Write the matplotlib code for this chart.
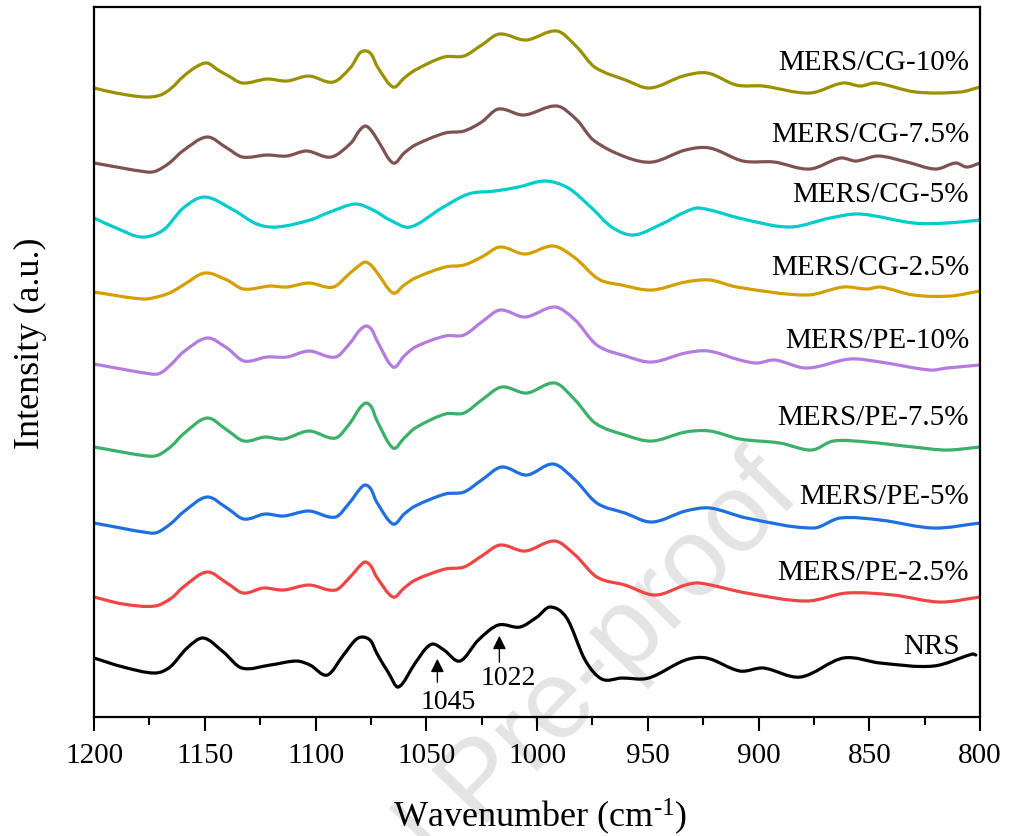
"""
    FTIR spectra 1200-800 cm-1, stacked curves (NRS, MERS/PE, MERS/CG)
"""
import matplotlib
matplotlib.use('Agg')
import matplotlib.pyplot as plt
from matplotlib.path import Path
from matplotlib.patches import PathPatch
from matplotlib.ticker import MultipleLocator

plt.rcParams['font.family'] = ['Liberation Serif', 'DejaVu Serif']
plt.rcParams['mathtext.fontset'] = 'custom'
plt.rcParams['mathtext.rm'] = 'Liberation Serif'
plt.rcParams['mathtext.default'] = 'regular'

# 读图得到的数据（强度为叠加偏移后的值，任意单位）
nrs_wn = [1200, 1186.8, 1172.5, 1165.7, 1158, 1150.6, 1141.6, 1133.3, 1120.5, 1108.5,
          1102.5, 1094.7, 1087.4, 1082, 1078.7, 1075, 1072.4, 1067, 1062.6, 1055,
          1050, 1046.8, 1042, 1034.8, 1026.5, 1017.5, 1007.7, 1000, 994.1, 986.6,
          978.3, 970.8, 961.8, 949.7, 933, 923.4, 908.4, 897.8, 881.1, 861.7,
          845, 821, 803.4, 801.9]
nrs_int = [59, 50, 44, 50, 69, 79, 65, 49, 52, 56,
           52, 42, 62, 77, 80, 76, 64, 44, 30, 54,
           69, 73, 67, 56, 77, 92, 90, 100, 110, 99,
           57, 38, 39, 39, 57, 59, 46, 49, 40, 59,
           54, 51, 63, 62]

pe25_wn = [1200, 1186.8, 1172.5, 1165, 1159.7, 1149, 1140, 1132.6, 1123.6, 1114.5, 1103,
           1091, 1084.4, 1080, 1077.6, 1075, 1072.4, 1065, 1060, 1055, 1041.5,
           1033, 1025, 1016.7, 1005.4, 991.9, 982.8, 973, 960.3, 946.7, 933,
           926.7, 905.4, 878.3, 860.2, 839.2, 818.2, 800]
pe25_int = [120, 113, 111, 119, 130, 145, 134, 124, 129, 127, 132,
            127, 140, 151, 155, 151, 140, 120, 129, 137, 148,
            150, 161, 172, 166, 176, 162, 140, 132, 122, 132,
            134, 124, 116, 124, 122, 115, 120]

pe5_wn = [1200, 1174.7, 1171, 1165, 1159.7, 1149, 1140, 1132.3, 1122.8, 1114.5, 1103,
          1091, 1084.4, 1080, 1077.6, 1075, 1072.4, 1065, 1060, 1055, 1041.5,
          1033, 1025, 1016, 1004.7, 992.6, 982.8, 973, 960.3, 948.2, 933,
          921.9, 905.4, 875.3, 863.2, 845, 821, 800]
pe5_int = [194, 184, 185, 194, 205, 220, 209, 198, 203, 201, 206,
           200, 215, 228, 232, 228, 215, 193, 203, 211, 223,
           225, 237, 250, 242, 253, 237, 214, 204, 195, 206,
           209, 199, 189, 199, 197, 189, 194]

pe75_wn = [1200, 1176, 1171, 1165, 1159.7, 1149, 1140, 1132.3, 1122.8, 1114.5, 1103,
           1091, 1084.4, 1080, 1077, 1074.5, 1072.4, 1065, 1060, 1055, 1041.5,
           1033, 1025, 1016, 1004.7, 991.9, 982.8, 973.8, 960.3, 948.2, 933,
           921.9, 908.4, 890.3, 876, 866.3, 851, 830, 815, 800]
pe75_int = [270, 261, 262, 271, 283, 299, 287, 276, 280, 278, 286,
            279, 294, 309, 314, 309, 297, 269, 279, 289, 303,
            304, 317, 330, 324, 334, 317, 294, 282, 276, 285,
            286, 278, 274, 267, 276, 275, 270, 267, 270]

pe10_wn = [1200, 1174, 1170, 1165, 1159.7, 1149, 1140, 1132.3, 1122, 1113, 1103,
           1091, 1084.4, 1080, 1077, 1074.5, 1072.4, 1065, 1060, 1055, 1041.5,
           1033, 1025, 1016.7, 1005.4, 991.9, 982.8, 973, 960, 948.2, 933,
           922.6, 908.4, 900.8, 892.6, 878.3, 858.7, 845, 822.6, 815, 800]
pe10_int = [353, 343, 344, 353, 365, 379, 369, 356, 360, 360, 366,
            360, 374, 387, 391, 387, 377, 350, 361, 370, 381,
            382, 395, 407, 400, 410, 397, 372, 361, 355, 364,
            366, 357, 354, 357, 349, 358, 355, 347, 349, 352]

cg25_wn = [1200, 1177.7, 1170, 1165, 1159.7, 1150, 1140, 1132.6, 1120.5, 1113, 1103,
           1092, 1084.4, 1080, 1077.6, 1075, 1072.4, 1065, 1060, 1055, 1041.5,
           1033, 1025, 1016.7, 1005.4, 992.6, 982.8, 972.3, 961.8, 948.2, 933,
           921.9, 909.8, 878.3, 861.7, 851, 845, 830, 813.5, 800]
cg25_int = [425, 418, 421, 425, 432, 444, 437, 428, 431, 430, 434,
            430, 444, 452, 455, 452, 445, 424, 432, 439, 450,
            452, 460, 470, 463, 471, 459, 438, 432, 427, 435,
            437, 430, 422, 430, 428, 430, 422, 421, 426]

cg5_wn = [1200, 1190, 1178.5, 1168.7, 1159.7, 1150, 1137, 1126.5, 1117.5, 1102.5,
          1093.5, 1082, 1074, 1066.4, 1057.3, 1043, 1031, 1019, 1008.4, 996.4,
          985.9, 975.3, 966.3, 956.5, 943.7, 933.2, 926.7, 907, 885.8, 867.7,
          854.2, 830, 815, 800]
cg5_int = [499, 489, 480, 487, 509, 520, 507, 493, 490, 497,
           505, 513, 507, 497, 490, 509, 523, 526, 530, 536,
           529, 509, 490, 482, 493, 505, 509, 498, 490, 499,
           503, 494, 494, 497]

cg75_wn = [1200, 1176, 1172, 1166, 1160, 1149, 1140, 1133, 1122, 1113, 1104,
           1093, 1084, 1080, 1077.5, 1075, 1072, 1065, 1060, 1055, 1041.5,
           1033, 1025, 1017.5, 1006, 991, 982, 974.6, 960, 948, 933,
           922, 907, 893, 877, 863, 856, 846, 833, 820, 811,
           806, 800]
cg75_int = [554, 545, 546, 554, 566, 580, 569, 560, 562, 561, 566,
            560, 574, 587, 591, 587, 577, 554, 564, 572, 584,
            586, 595, 608, 602, 611, 597, 577, 560, 555, 567,
            569, 556, 555, 548, 559, 556, 561, 555, 548, 554,
            550, 554]

cg10_wn = [1200, 1190, 1177, 1170, 1165, 1160, 1154, 1149, 1144, 1140, 1133,
           1122, 1113, 1103, 1092, 1084, 1080, 1077, 1074.6, 1072, 1065,
           1060, 1055, 1042, 1033, 1025, 1017, 1005, 991, 982, 974,
           960, 949, 934, 923, 910, 898, 877, 862, 854, 847,
           829, 809, 800]
cg10_int = [629, 624, 620, 622, 629, 640, 650, 654, 647, 642, 634,
            638, 636, 641, 635, 650, 664, 666, 662, 650, 630,
            639, 647, 660, 661, 672, 683, 677, 686, 670, 650,
            637, 629, 641, 644, 632, 631, 624, 634, 631, 634,
            625, 625, 630]

SERIES = [
    ('NRS', nrs_wn, nrs_int, '#000000'),
    ('MERS/PE-2.5%', pe25_wn, pe25_int, '#f04545'),
    ('MERS/PE-5%', pe5_wn, pe5_int, '#1f6fe0'),
    ('MERS/PE-7.5%', pe75_wn, pe75_int, '#3bb06a'),
    ('MERS/PE-10%', pe10_wn, pe10_int, '#b57ce0'),
    ('MERS/CG-2.5%', cg25_wn, cg25_int, '#d4a000'),
    ('MERS/CG-5%', cg5_wn, cg5_int, '#00cccc'),
    ('MERS/CG-7.5%', cg75_wn, cg75_int, '#7f5252'),
    ('MERS/CG-10%', cg10_wn, cg10_int, '#999100'),
]

# 标签位置（波数，强度）
LABEL_POS = {
    'NRS': (809, 70),
    'MERS/PE-2.5%': (805, 144),
    'MERS/PE-5%': (805, 220),
    'MERS/PE-7.5%': (805, 299),
    'MERS/PE-10%': (805, 376),
    'MERS/CG-2.5%': (805, 449),
    'MERS/CG-5%': (805, 522),
    'MERS/CG-7.5%': (805, 582),
    'MERS/CG-10%': (805, 654),
}


def smooth_path(xs, ys):
    """
        用三次贝塞尔曲线平滑地连接数据点（Hermite切线）
    """
    n = len(xs)
    slopes = []
    for i in range(n):
        a = max(i - 1, 0)
        b = min(i + 1, n - 1)
        slopes.append((ys[b] - ys[a]) / (xs[b] - xs[a]))
    verts = [(xs[0], ys[0])]
    codes = [Path.MOVETO]
    for i in range(n - 1):
        h = xs[i + 1] - xs[i]
        verts.append((xs[i] + h / 3, ys[i] + slopes[i] * h / 3))
        verts.append((xs[i + 1] - h / 3, ys[i + 1] - slopes[i + 1] * h / 3))
        verts.append((xs[i + 1], ys[i + 1]))
        codes += [Path.CURVE4] * 3
    return Path(verts, codes)


def main():
    fig = plt.figure(figsize=(10.09, 8.36), dpi=100)
    ax = fig.add_axes([0.0932, 0.1423, 0.8781, 0.8493])

    for name, wn, inten, color in SERIES:
        patch = PathPatch(smooth_path(wn, inten), facecolor='none', edgecolor=color,
                          lw=2.3, joinstyle='round', capstyle='round')
        ax.add_patch(patch)
        lx, ly = LABEL_POS[name]
        ax.text(lx, ly, name, ha='right', va='center', fontsize=21)

    # 峰位标注
    ax.annotate('', xy=(1045, 61), xytext=(1045, 32),
                arrowprops=dict(arrowstyle='-|>', color='k', lw=1, mutation_scale=20))
    ax.text(1040, 15, '1045', ha='center', va='center', fontsize=20)
    ax.annotate('', xy=(1017, 84), xytext=(1017, 52),
                arrowprops=dict(arrowstyle='-|>', color='k', lw=1, mutation_scale=20))
    ax.text(1013, 39, '1022', ha='center', va='center', fontsize=20)

    # 水印
    ax.text(0.775, 0.43, 'Journal Pre-proof', transform=fig.transFigure,
            rotation=46, rotation_mode='anchor', ha='right', va='center',
            fontsize=80, color='#e4e4e4', family='Liberation Sans',
            zorder=0.5, clip_on=False)

    ax.set_xlim(1200, 800)
    ax.set_ylim(0, 710)
    ax.xaxis.set_major_locator(MultipleLocator(50))
    ax.xaxis.set_minor_locator(MultipleLocator(25))
    ax.tick_params(axis='x', which='major', direction='out', length=10, width=1.5,
                   labelsize=21, pad=9, top=False)
    ax.tick_params(axis='x', which='minor', direction='out', length=5.5, width=1.5, top=False)
    ax.set_yticks([])
    for sp in ax.spines.values():
        sp.set_linewidth(1.6)

    ax.set_xlabel(r'Wavenumber (cm$^{\text{-1}}$)', fontsize=26)
    ax.set_ylabel('Intensity (a.u.)', fontsize=26)
    ax.xaxis.label.set_va('center')
    ax.yaxis.label.set_va('center')
    ax.xaxis.set_label_coords(0.503, -0.14)
    ax.yaxis.set_label_coords(-0.072, 0.527)

    fig.savefig('out.png', dpi=100)


if __name__ == '__main__':
    main()
